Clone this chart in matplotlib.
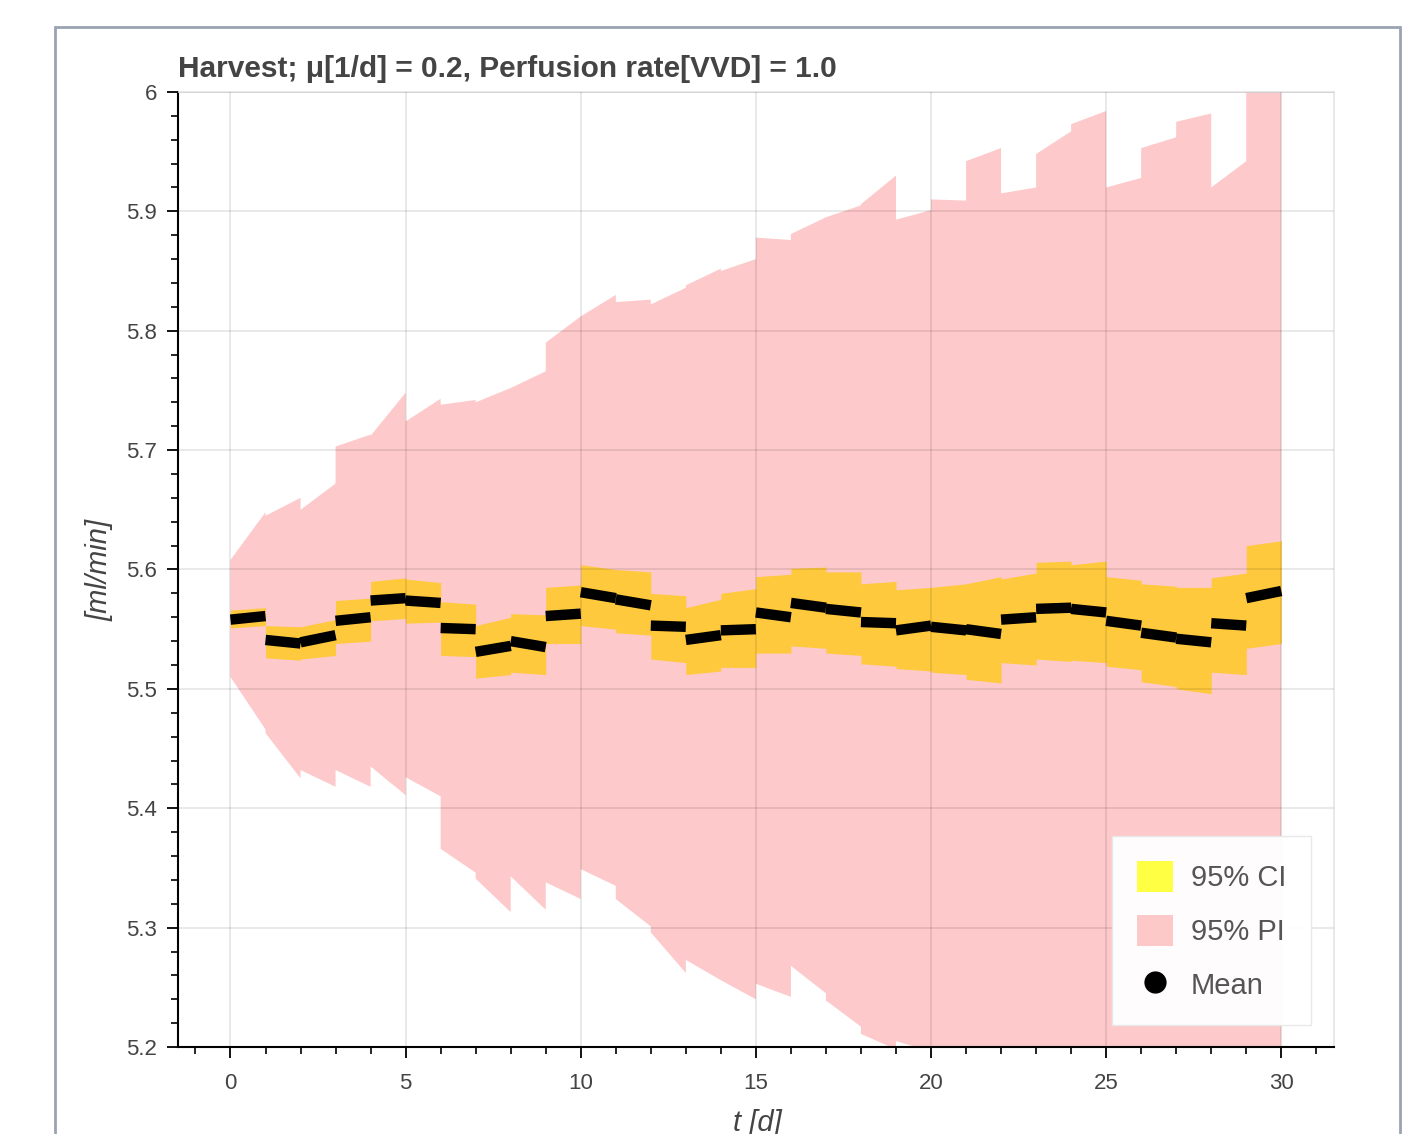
import matplotlib
matplotlib.use("Agg")
import matplotlib.pyplot as plt
import numpy as np
from matplotlib.patches import Patch, Rectangle
from matplotlib.lines import Line2D
from matplotlib.ticker import MultipleLocator, FuncFormatter

plt.rcParams['font.family'] = ['Liberation Sans', 'DejaVu Sans']

# one entry per simulated day: value at start and at end of that day
days = np.arange(30)

mean_start = [5.558, 5.541, 5.539, 5.557, 5.574, 5.574, 5.551, 5.531, 5.540, 5.561,
              5.581, 5.575, 5.553, 5.541, 5.549, 5.564, 5.572, 5.567, 5.556, 5.549,
              5.552, 5.550, 5.558, 5.567, 5.567, 5.557, 5.547, 5.542, 5.555, 5.576]
mean_end = [5.561, 5.538, 5.545, 5.560, 5.576, 5.572, 5.550, 5.536, 5.535, 5.563,
            5.576, 5.570, 5.552, 5.545, 5.550, 5.560, 5.568, 5.564, 5.555, 5.553,
            5.549, 5.546, 5.560, 5.568, 5.564, 5.553, 5.543, 5.539, 5.553, 5.582]

ci_hi_start = [5.566, 5.553, 5.552, 5.574, 5.590, 5.592, 5.573, 5.553, 5.563, 5.585,
               5.604, 5.600, 5.580, 5.568, 5.580, 5.594, 5.601, 5.598, 5.588, 5.583,
               5.585, 5.588, 5.592, 5.606, 5.604, 5.594, 5.588, 5.585, 5.593, 5.620]
ci_hi_end = [5.568, 5.552, 5.558, 5.576, 5.593, 5.589, 5.571, 5.560, 5.562, 5.587,
             5.600, 5.598, 5.578, 5.575, 5.584, 5.596, 5.602, 5.598, 5.590, 5.585,
             5.588, 5.594, 5.597, 5.607, 5.607, 5.591, 5.586, 5.585, 5.597, 5.624]
ci_lo_start = [5.551, 5.526, 5.525, 5.538, 5.557, 5.555, 5.528, 5.509, 5.514, 5.538,
               5.553, 5.547, 5.525, 5.512, 5.518, 5.530, 5.536, 5.530, 5.521, 5.517,
               5.514, 5.508, 5.522, 5.525, 5.524, 5.519, 5.506, 5.500, 5.514, 5.534]
ci_lo_end = [5.553, 5.524, 5.528, 5.540, 5.559, 5.556, 5.527, 5.512, 5.512, 5.538,
             5.550, 5.545, 5.522, 5.515, 5.518, 5.530, 5.534, 5.528, 5.519, 5.515,
             5.512, 5.505, 5.520, 5.523, 5.522, 5.516, 5.502, 5.496, 5.512, 5.538]

pi_hi_start = [5.608, 5.645, 5.650, 5.703, 5.712, 5.724, 5.738, 5.740, 5.752, 5.790,
               5.812, 5.824, 5.822, 5.838, 5.850, 5.878, 5.881, 5.895, 5.906, 5.893,
               5.910, 5.942, 5.915, 5.948, 5.973, 5.920, 5.953, 5.975, 5.920, 6.050]
pi_hi_end = [5.648, 5.660, 5.672, 5.713, 5.748, 5.743, 5.742, 5.752, 5.766, 5.812,
             5.830, 5.826, 5.836, 5.852, 5.860, 5.876, 5.895, 5.905, 5.930, 5.901,
             5.909, 5.953, 5.920, 5.967, 5.984, 5.928, 5.962, 5.982, 5.942, 6.050]
pi_lo_start = [5.510, 5.463, 5.432, 5.432, 5.435, 5.426, 5.366, 5.341, 5.343, 5.338,
               5.349, 5.324, 5.296, 5.273, 5.256, 5.253, 5.268, 5.239, 5.211, 5.205,
               5.190, 5.185, 5.192, 5.170, 5.160, 5.150, 5.140, 5.130, 5.120, 5.100]
pi_lo_end = [5.466, 5.425, 5.418, 5.418, 5.411, 5.410, 5.346, 5.313, 5.315, 5.324,
             5.335, 5.301, 5.262, 5.256, 5.240, 5.242, 5.245, 5.217, 5.198, 5.196,
             5.180, 5.175, 5.175, 5.160, 5.150, 5.140, 5.130, 5.120, 5.110, 5.090]

title = "Harvest; \u03bc[1/d] = 0.2, Perfusion rate[VVD] = 1.0"


def segs(start, end):
    # day-wise pieces joined into one outline (jumps at day boundaries)
    x = np.column_stack([days, days + 1]).ravel()
    y = np.column_stack([start, end]).ravel()
    return x, y


fig = plt.figure(figsize=(14.27, 11.34), dpi=100)
ax = fig.add_axes([0.1247, 0.0767, 0.8100, 0.8422])

x, lo = segs(pi_lo_start, pi_lo_end)
_, hi = segs(pi_hi_start, pi_hi_end)
ax.fill_between(x, lo, hi, color='#fdc9ca', lw=0, zorder=1)

x, lo = segs(ci_lo_start, ci_lo_end)
_, hi = segs(ci_hi_start, ci_hi_end)
ax.fill_between(x, lo, hi, color='#fec93c', lw=0, zorder=1.2)

mx = np.column_stack([days, days + 1, np.full(30, np.nan)]).ravel()
my = np.column_stack([mean_start, mean_end, np.full(30, np.nan)]).ravel()
ax.plot(mx, my, color='black', lw=7.5, solid_capstyle='butt', zorder=3)

ax.set_xlim(-1.5, 31.5)
ax.set_ylim(5.2, 6.0)
ax.xaxis.set_major_locator(MultipleLocator(5))
ax.xaxis.set_minor_locator(MultipleLocator(1))
ax.yaxis.set_major_locator(MultipleLocator(0.1))
ax.yaxis.set_minor_locator(MultipleLocator(0.02))
ax.yaxis.set_major_formatter(FuncFormatter(lambda v, p: '{:g}'.format(round(v, 2))))

ax.grid(True, which='major', color='#000000', alpha=0.1, lw=1.2)
ax.set_axisbelow(False)

for s in ['top', 'right']:
    ax.spines[s].set_color('#e5e5e5')
    ax.spines[s].set_linewidth(1.2)
for s in ['left', 'bottom']:
    ax.spines[s].set_color('black')
    ax.spines[s].set_linewidth(1.5)

ax.tick_params(which='major', length=8, width=1.3, colors='black',
               labelcolor='#444444', labelsize=16)
ax.tick_params(which='minor', length=5, width=1.2, colors='black')
ax.tick_params(axis='y', which='major', pad=7)
ax.tick_params(axis='x', which='major', pad=11)

ax.set_title(title, loc='left', fontsize=21.5, fontweight='bold',
             color='#444444', pad=11)

fig.text(0.070, 0.497, '[ml/min]', rotation=90, ha='center', va='center',
         fontsize=21, style='italic', color='#444444')
fig.text(0.5305, 0.010, 't [d]', ha='center', va='center',
         fontsize=21, style='italic', color='#444444')

handles = [Patch(facecolor='#ffff44', edgecolor='none', label='95% CI'),
           Patch(facecolor='#fcc8c8', edgecolor='none', label='95% PI'),
           Line2D([], [], marker='o', color='black', lw=0, markersize=15,
                  label='Mean')]
leg = ax.legend(handles=handles, loc='lower right', bbox_to_anchor=(0.980, 0.023),
                fontsize=21, frameon=True, fancybox=False, borderpad=0.85,
                handlelength=1.25, handleheight=1.25, handletextpad=0.6,
                labelspacing=0.78, borderaxespad=0)
leg.get_frame().set_edgecolor('#e8e8e8')
leg.get_frame().set_facecolor('white')
leg.get_frame().set_alpha(0.95)
for t in leg.get_texts():
    t.set_color('#555555')
leg.set_zorder(5)

fig.patches.append(Rectangle((0.0385, -0.02), 0.9425, 0.996, transform=fig.transFigure,
                             fill=False, edgecolor='#9aa3b3', lw=2, zorder=0))

fig.savefig('out.png', dpi=100)
